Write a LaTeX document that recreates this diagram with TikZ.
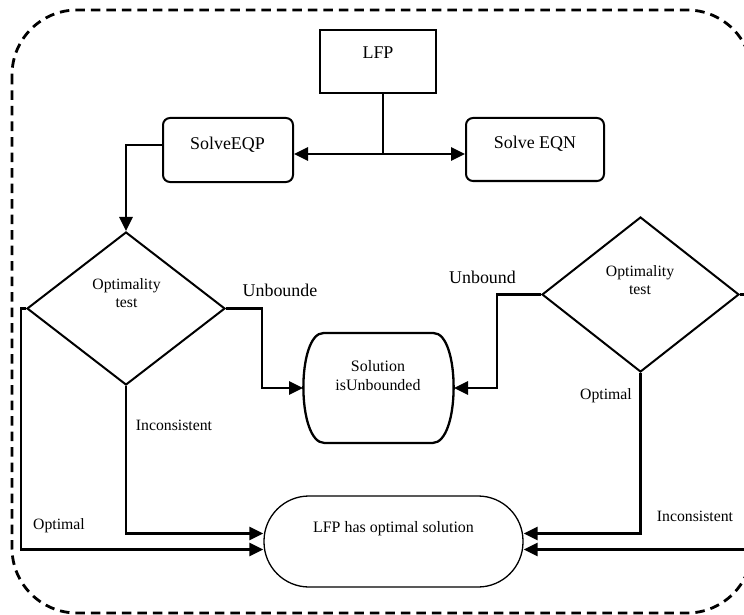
\documentclass[tikz,border=0pt]{standalone}
\usepackage{fontspec}
\setmainfont{Liberation Serif}
\usetikzlibrary{arrows.meta,shapes.geometric}
\begin{document}
\begin{tikzpicture}[x=1bp,y=-1bp,
  conn/.style={line width=2.8bp},
  arr/.style={conn,-{Triangle[length=14bp,width=13bp]}},
  procbox/.style={draw,line width=2bp,rounded corners=7bp,inner sep=0pt},
  decision/.style={draw,diamond,line width=2bp,inner sep=0pt},
  big/.style={font=\fontsize{18}{20}\selectfont},
  mid/.style={font=\fontsize{15.8}{17.5}\selectfont},
  txt/.style={anchor=base,inner sep=0pt},
]
\useasboundingbox (0,0) rectangle (744,615);
% dashed frame
\draw[line width=2.8bp,dash pattern=on 9.5bp off 6bp,rounded corners=65bp] (12,10) rectangle (752,613);

% shapes
\node[draw,line width=2bp,minimum width=116bp,minimum height=63bp,inner sep=0pt] (lfp) at (378,61.5) {};
\node[procbox,minimum width=130bp,minimum height=64bp] (eqp) at (228,150) {};
\node[procbox,minimum width=138bp,minimum height=63bp] (eqn) at (535,149.5) {};
\node[decision,minimum width=198bp,minimum height=153bp] (dl) at (126,308.5) {};
\node[decision,minimum width=197bp,minimum height=155bp] (dr) at (640.5,294.5) {};
\node[minimum width=151bp,minimum height=110bp,inner sep=0pt,outer sep=0pt] (sol) at (378.5,388) {};
\draw[line width=2.3bp,shift={(sol.center)}] (-55,-55) -- (55,-55) .. controls (82,-55) and (82,55) .. (54,55) -- (-54,55) .. controls (-82,55) and (-82,-55) .. (-55,-55) -- cycle;
\node[draw,line width=1.3bp,rounded corners=45bp,minimum width=259bp,minimum height=91bp,inner sep=0pt] (opt) at (393.5,541.5) {};

% texts (multi-line nodes: base = last line)
\node[txt,big] (tlfp) at (378,58.3) {LFP};
\node[txt,big] (teqp) at (227.5,149.5) {SolveEQP};
\node[txt,big] (teqn) at (535,148.3) {Solve EQN};
\node[txt,mid,align=center] (tdl) at (126.5,307.3) {Optimality\\test};
\node[txt,mid,align=center] (tdr) at (640,294) {Optimality\\test};
\node[txt,big] (tub1) at (280,296) {Unbounde};
\node[txt,big] (tub2) at (482.5,283.3) {Unbound};
\node[txt,align=center,font=\fontsize{16}{18.3}\selectfont] (tsol) at (378,390) {Solution\\isUnbounded};
\node[txt,mid] (topt2) at (606,399.5) {Optimal};
\node[txt,mid] (tinc1) at (174,430) {Inconsistent};
\node[txt,mid] (topt1) at (59,529.5) {Optimal};
\node[txt,mid] (tinc2) at (695,521.7) {Inconsistent};
\node[txt,font=\fontsize{16}{18}\selectfont] (topt) at (393.5,532) {LFP has optimal solution};

% connectors
\coordinate (j) at (383,154);
\coordinate (cl) at (21,308.5);
\draw[conn] (lfp.south -| j) -- (j);
\draw[arr] (j) -- (eqp.east |- j);
\draw[arr] (j) -- (eqn.west |- j);
\draw[arr] ([yshift=5bp]eqp.west) -| (dl.north);
\draw[arr] (dl.west) -- (cl) |- ([yshift=-8bp]opt.west);
\draw[arr] (dl.south) |- ([yshift=8bp]opt.west);
\draw[arr] (dl.east) -- ++(36,0) |- (sol.west);
\draw[arr] (dr.west) -- ++(-44,0) |- (sol.east);
\draw[arr] (dr.south) |- ([yshift=8bp]opt.east);
\draw[arr] (dr.east) -- ++(14,0) |- ([yshift=-8bp]opt.east);
\end{tikzpicture}
\end{document}
